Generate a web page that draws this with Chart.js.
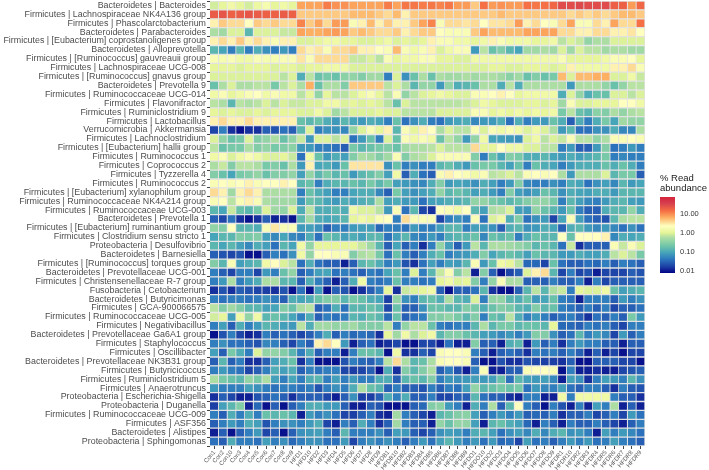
<!DOCTYPE html>
<html>
<head>
<meta charset="utf-8">
<script src="https://cdn.jsdelivr.net/npm/chart.js@4"></script>
<style>
body { margin: 0; background: #fff; }
canvas { display: block; }
</style>
</head>
<body>
<canvas id="graph" width="709" height="470"></canvas>
<script>
const taxa = [
"Bacteroidetes | Bacteroides","Firmicutes | Lachnospiraceae NK4A136 group","Firmicutes | Phascolarctobacterium","Bacteroidetes | Parabacteroides","Firmicutes | [Eubacterium] coprostanoligenes group",
"Bacteroidetes | Alloprevotella","Firmicutes | [Ruminococcus] gauvreauii group","Firmicutes | Lachnospiraceae UCG-008","Firmicutes | [Ruminococcus] gnavus group","Bacteroidetes | Prevotella 9",
"Firmicutes | Ruminococcaceae UCG-014","Firmicutes | Flavonifractor","Firmicutes | Ruminiclostridium 9","Firmicutes | Lactobacillus","Verrucomicrobia | Akkermansia",
"Firmicutes | Lachnoclostridium","Firmicutes | [Eubacterium] hallii group","Firmicutes | Ruminococcus 1","Firmicutes | Coprococcus 2","Firmicutes | Tyzzerella 4",
"Firmicutes | Ruminococcus 2","Firmicutes | [Eubacterium] xylanophilum group","Firmicutes | Ruminococcaceae NK4A214 group","Firmicutes | Ruminococcaceae UCG-003","Bacteroidetes | Prevotella 1",
"Firmicutes | [Eubacterium] ruminantium group","Firmicutes | Clostridium sensu stricto 1","Proteobacteria | Desulfovibrio","Bacteroidetes | Barnesiella","Firmicutes | [Ruminococcus] torques group",
"Bacteroidetes | Prevotellaceae UCG-001","Firmicutes | Christensenellaceae R-7 group","Fusobacteria | Cetobacterium","Bacteroidetes | Butyricimonas","Firmicutes | GCA-900066575",
"Firmicutes | Ruminococcaceae UCG-005","Firmicutes | Negativibacillus","Bacteroidetes | Prevotellaceae Ga6A1 group","Firmicutes | Staphylococcus","Firmicutes | Oscillibacter",
"Bacteroidetes | Prevotellaceae NK3B31 group","Firmicutes | Butyricicoccus","Firmicutes | Ruminiclostridium 5","Firmicutes | Anaerotruncus","Proteobacteria | Escherichia-Shigella",
"Proteobacteria | Duganella","Firmicutes | Ruminococcaceae UCG-009","Firmicutes | ASF356","Bacteroidetes | Alistipes","Proteobacteria | Sphingomonas"];

const samples = [
"Con1","Con2","Con10","Con3","Con4","Con5","Con6","Con7","Con8","Con9",
"HFD1","HFD10","HFD2","HFD3","HFD4","HFD5","HFD6","HFD7","HFD8","HFD9",
"HFDB1","HFDB10","HFDB2","HFDB3","HFDB4","HFDB5","HFDB6","HFDB7","HFDB8","HFDB9",
"HFDO1","HFDO10","HFDO2","HFDO3","HFDO4","HFDO5","HFDO6","HFDO7","HFDO8","HFDO9",
"HFDR1","HFDR10","HFDR2","HFDR3","HFDR4","HFDR5","HFDR6","HFDR7","HFDR8","HFDR9"];

const legendTicks = [0.01, 0.1, 1, 10];

const row00 = [.9,1.2,1.6,1.2,.9,1.4,1.8,1.2,1.5,1.2, 8,8,8,13,10,10,8,8,8,8,13,8,14,14,13, 14,12,14,9,9,5,15,9,10,9,9,15,14,15,18,30,30,32,30,30,30,20,20,9,18];
const row01 = [22,25,20,22,25,22,20,20,22,20, 5,5,5,5,5,5,6,6,6,5,4,6,3,5,5, 5,5,5,5,5,5,5,5,6,5,5,5,5,5,5,5,4,5,4,5,4,5,6,6,5];
const row02 = [3,5,4,4,2.5,5,4,5,4,4, 12,5,8,4,9,9,2,3,6,3,5,3,3,5,8, 12,2,4,4,3.5,4,2.5,3.5,3.5,4,9,3,4,2.5,2,4,8,2,2,4,3,8,4,4,15];
const row03 = [.6,.5,1,1,.15,1,1,1,.8,.8, 8,7,7,8,9,8,5,6,5,4,4,5,3,4,5, 5,2.5,2,2,2,5,8,6,6,6,6,8,8,8,8,4,4,3,3,4,4,3,3,3.5,2.5];
const row04 = [3,4,3,5,3,4,3,2,3,3, 1,1,1.2,1.5,1.5,1.2,1.2,1,1,1.2,1.5,1,1.2,1,1.2, 3,2,2,1.5,1.5,1.2,1.5,3,2,1.5,1.5,1.5,1.2,1.2,1.5,.7,1,.8,.4,.6,.6,1,1,1,1];
const row05 = [.15,.1,.05,.15,.05,.12,.07,.05,.08,.05, 4,3,3.5,2,4,4,5,3,3,2.5,2,6,2,1.5,2, 3,1,1.5,2,2,.08,.7,.2,.3,.15,.1,.5,.5,.6,.5,1,.5,1,.7,.7,.5,.6,.6,.5,.5];
const row06 = [2,1.8,2,1.5,1.5,2,1.8,1.8,2,2, 3.5,2,4,4,4,4,.8,.8,1,.7,2,1.2,1.5,1.5,2, 2,1.2,1.2,1,1,1.5,1.5,1.5,1.5,1.5,1.5,1.5,1.5,1.5,1.5,2,1.2,1.2,1.2,1.2,1.5,2,2,2.5,1.2];
const row07 = [1.2,1.2,1.2,1,1.2,1.2,1.2,1,1.2,1.2, 1,1.2,1.2,1.5,1.5,1.5,1,1,1,1,1,1,1,1,1, 1,1,1,1,1,1,1,1.2,1.2,1,1,1.2,1.2,1.2,1,1.2,3,1.5,1.5,1.5,1.5,3,3,4,2];
const row08 = [1,1,1,1,1,1,1,1,.7,1, .12,.7,.2,.25,.2,.35,.4,.3,.5,.5,.05,1,.07,.2,.6, .2,.6,.5,.5,.6,.5,.6,.6,.5,.35,.5,.2,.3,.2,.25,6,1,6,6,7,7,1,1,1.5,.8];
const row09 = [.2,.6,1,.6,.6,.7,.7,.25,.7,1, .6,7,.2,.6,.6,.3,5,5,5,5,.7,1,.6,.15,.4, .4,.08,.4,.12,.15,.2,.6,.6,.12,.7,.12,.6,.6,.6,.6,.6,.08,.6,.6,.6,.4,.2,.4,.7,.7];
const row10 = [1.5,2,1.2,1.5,2,2.5,1.5,2,1.5,1.5, .7,1.2,.4,1.2,.7,.7,1,1.5,2,1.2,.7,2,.4,.7,1, 1.2,1.5,1.2,1,1,2,2,2.5,3,2.5,1.2,1.5,1.5,1.5,1.5,.12,1,.4,.12,.2,.2,1,1,.7,1];
const row11 = [.7,.6,.15,.7,.6,.7,1,.7,1,.8, .8,1,1,1.5,1.5,1,1.2,1,1.2,1,.7,.2,1,.7,.7, .7,.7,.7,.7,.8,1,1.5,1.2,1,1,1,1.2,1.2,1,1.2,.5,2,1,1,1.2,1.2,1.2,2.5,2.5,1.5];
const row12 = [1.2,1,1.2,1,1,1.2,1,1.2,1.2,1.2, 1,1,1.5,1,.5,.7,1,1,1,1.2,1,1,.7,.7,.7, .7,1,1,1,1,2,2,1.2,1.5,1.2,1.5,1.2,1.5,1.2,1.5,.25,.7,.2,.15,.35,.3,.6,.4,.6,.7];
const row13 = [3,4,3,3,4,3,3,3,3,3, .2,.15,.2,.12,.08,.15,.1,.08,.12,.1,.05,.2,.04,.07,.12, .05,.04,.08,.1,.12,.06,.08,.08,.12,.04,.12,.05,.08,.08,.2,.12,.03,.12,.05,.12,.25,.1,.5,.4,.4];
const row14 = [.02,.05,.015,.01,.015,.015,.03,.025,.04,.03, .15,1,.05,.07,.07,.06,.4,1,2,1.2,3,.15,2,1.2,3, 2.5,.6,1,.7,.7,2,1,2,1.5,2,1.5,1,1.5,1,.6,.08,.15,.04,.04,.07,.07,.12,.06,.06,.6];
const row15 = [1,.4,.2,.25,1,.3,.4,.6,.2,.4, .8,.08,1,1,.7,1,.04,.08,.2,.05,1,.2,2,1.5,2, 1.5,.2,.7,.4,.08,.4,1.5,.1,.09,.08,.07,1,1.5,.7,1,.8,2,.7,.7,.4,.6,2,2,2.5,2];
const row16 = [.7,.2,.25,.25,.6,.3,.4,.25,.3,.35, .08,.08,.05,.05,.04,.03,.25,.15,.2,.25,.3,.2,.5,.6,.6, .7,1,.7,.7,.7,4,1.2,1.2,2.5,1.5,1.5,1,1,.7,.7,.05,.08,.03,.03,.08,.3,.04,.05,.08,.05];
const row17 = [1.5,2,1,1.5,2,1.5,1,1,1.2,.8, .04,1.5,.2,.08,.12,.09,.3,.6,.5,.3,.5,2,.3,.6,.7, 1,2,2,2,2,.3,.05,.2,.1,.3,.25,.12,.12,.15,.1,.08,.12,.09,.12,.15,.25,.05,.06,.05,.05];
const row18 = [.6,.8,.3,.7,.7,.6,.25,.3,.2,.6, .08,3,.1,.12,.08,.2,3.5,3.5,3.5,3.5,.07,.2,.05,.07,.05, .05,.15,.2,.12,.08,.2,.25,.25,.15,.09,.2,.05,.2,.12,.1,.05,.08,.12,.12,.12,.2,.12,.2,.12,.05];
const row19 = [.3,.2,.1,.25,.3,.4,.2,.3,.3,.4, .09,.4,.15,.25,.15,.2,.08,.15,.2,.3,.09,1.5,.03,.12,.04, .03,2,3,2.5,2,1.5,2,.7,.8,1,.7,2,2.5,2,2.5,.6,.08,.6,.6,.6,1,.15,.25,.25,.03];
const row20 = [2,2.5,2,2.5,3,2,2.5,2.5,3,2.5, .15,.2,.05,.12,.15,.15,.2,.15,.25,.15,.25,.09,.08,.07,.06, .12,.3,.08,.1,.09,.07,.12,.09,.05,.08,.3,.06,.05,.05,.07,.05,.12,.1,.04,.07,.09,.06,.15,.08,.1];
const row21 = [4,3,.5,3,4,3,.6,.6,.6,.6, .05,.2,.12,.09,.05,.05,.1,.12,.12,.06,.03,.25,.09,.07,.09, .12,.4,.15,.2,.15,.09,.12,.08,.05,.3,.09,.07,.09,.2,.15,.07,.12,.1,.09,.12,.12,.08,.15,.15,.15];
const row22 = [2,2.5,.7,2,3,2,.6,.5,.5,.5, .08,.2,.15,.1,.08,.12,.09,.12,.15,.6,.09,.12,.08,.08,.04, .09,.1,.12,.12,.15,.4,.4,.25,.2,.15,.2,.3,.4,.4,.25,.05,.15,.09,.06,.05,.08,.12,.15,.09,.08];
const row23 = [.15,.1,.8,.2,.15,.25,1,.5,.4,1, .12,.7,.12,.12,.15,.12,1.5,1,1,.7,.08,2,.04,.15,.02, .015,2.5,2,1.5,2.5,.15,.09,.6,.7,1,.09,.08,.4,.2,.15,.08,.2,.05,.03,.03,.12,.15,.15,.4,.12];
const row24 = [.03,.02,.04,.015,.01,.015,.03,.012,.015,.01, .15,.5,.12,.1,.12,.15,1.2,1.5,1.2,2,2.5,.05,4,2,2, 2,.02,.05,.07,.05,2,.04,1,1.5,.12,.3,.04,.07,.08,.02,.1,2,.09,.04,.03,.025,.15,.6,.7,.7];
const row25 = [.4,.3,2.5,.15,.15,.12,2,3.5,2,2, .08,.09,.07,.03,.05,.05,.08,.09,.09,.035,.05,.05,.04,.08,.05, .05,.09,.15,.15,.05,.09,.08,.07,.03,.12,.15,.07,.08,.12,.1,.03,.12,.15,.08,.06,.08,.06,.04,.07,.04];
const row26 = [.1,.15,.15,.3,.25,.3,.09,.06,.1,.06, .05,.12,.04,.2,.15,.09,.12,.09,.15,.15,.04,.09,.15,.06,.05, .08,.05,.12,.15,.15,.2,.06,.2,.15,.2,.05,.12,.2,.15,.15,2.5,.2,2.5,2.5,2.5,3,.06,.12,.1,.12];
const row27 = [.15,.1,.15,.09,.06,.12,.09,.04,.15,.1, 1.5,.4,1.2,1.2,1.2,1.2,1.2,.8,.5,.15,.03,.1,.03,.05,.015, .05,.4,.09,.03,.08,.7,.15,.6,.6,.5,.4,.3,.15,.2,.15,.04,.8,.015,.03,.03,.03,2,.8,2,1];
const row28 = [.03,.025,.02,.025,.01,.01,.03,.05,.04,.07, 1.5,.4,2.5,2.5,2,2,.3,.6,.7,.25,.04,.2,.05,.03,.05, .12,.2,.05,.07,.08,.12,.3,.1,.15,.2,.15,.09,.2,.15,.15,.08,.08,.12,.09,.09,.12,.7,1,.7,.25];
const row29 = [.3,.15,2,.09,.12,.15,1.5,2.5,1,.7, .04,.12,.04,.03,.03,.012,.03,.15,.2,.12,.05,.08,.025,.015,.04, .09,.05,.09,.08,.15,2,.08,.2,1.5,1.2,.7,.035,.035,.02,.2,.04,.03,.03,.04,.035,.05,.03,.05,.04,.03];
const row30 = [.05,.03,.02,.05,.05,.02,.08,.05,.2,.4, .03,.05,.09,.1,.04,.05,.04,.03,.05,.04,.1,.2,.05,1,.05, .15,.8,2,.3,.7,.012,.3,.03,.01,.02,.03,1,3,4,.15,.02,.05,.02,.025,.012,.02,.02,.02,.03,.025];
const row31 = [.05,.08,.6,.05,.08,.12,.6,.6,.15,.15, .03,.12,.05,.03,.012,.03,.12,1.5,.05,.04,.05,.2,.05,.05,.04, .05,1.2,1.5,1,1.2,.3,.05,.4,2,.6,.6,.03,.03,.03,.05,.03,.03,.05,.012,.05,.02,.03,.03,.03,.03];
const row32 = [.015,.025,.015,.03,.025,.02,.018,.015,.025,.01, .04,.01,.08,.01,.03,.025,.01,.015,.03,.05,1.2,.015,.8,1,1.2, 1.5,.03,.01,.03,.03,.04,.15,.015,.01,.01,.03,.15,.7,.15,.6,.8,.05,1.2,1,1,1.5,.2,.09,.12,.15];
const row33 = [.05,.04,.05,.05,.04,.05,.07,.05,.03,.12, .1,.12,.2,.3,.3,.15,.25,.2,.12,.1,.018,.4,.07,.05,.15, .2,.12,.6,.15,.12,1,.05,.4,.4,.15,.12,.2,.08,.1,.2,.05,.04,.012,.05,.05,.05,.03,.08,.05,.07];
const row34 = [.7,.3,.5,.3,.15,.15,.09,.1,.3,.2, .6,.7,.03,.04,.12,.04,.15,.15,.2,.15,.02,.2,.03,.03,.07, .2,.2,.15,.15,.3,.25,.12,.2,.3,.25,.15,.12,.3,.15,.2,.05,.04,.03,.05,.03,.05,.02,.03,.03,.04];
const row35 = [.9,1.2,.09,1.5,.4,1.5,.15,.2,.15,.1, .05,.12,.03,.05,.04,.05,.15,.12,.2,.15,.035,.2,.03,.04,.05, .3,.3,.4,.25,.15,.3,.05,.2,.15,.7,.12,.05,.08,.05,.03,.04,.05,.03,.015,.04,.03,.05,.03,.25,.08];
const row36 = [.05,.09,.03,.12,.05,.08,.15,.12,.09,.08, .7,.12,.5,.5,.4,.4,.5,.3,.3,.3,.7,.05,.4,.7,.7, .2,.05,.04,.05,.05,.15,.6,.15,.25,.25,.15,.2,.2,.15,1.2,.035,.035,.03,.05,.04,.05,.03,.02,.05,.05];
const row37 = [.01,.025,.05,.02,.012,.015,.05,.03,.04,.03, .02,.03,.05,.12,.03,.05,.035,.04,.035,.015,1.2,.5,1.5,.6,1, 1.5,.15,.3,.3,.2,.15,.09,.08,.06,.08,.05,.08,.3,.3,.07,.03,.04,.15,.05,.08,.06,.02,.08,.03,.05];
const row38 = [.05,.07,.04,.04,.03,.025,.06,.05,.03,.02, .05,.03,3,4,2.5,.08,.012,.03,.04,.012,.015,.02,.01,.01,.02, .02,.012,.04,.012,.012,.3,.03,.03,.012,.12,.15,.012,.08,.03,.05,.015,.05,.08,.05,.05,.03,.03,.012,.03,.03];
const row39 = [.09,.03,.25,.12,.05,1,.4,.4,.3,.15, .05,.12,.03,.05,.05,.012,.05,.2,.2,.15,.01,1.5,.015,.015,.03, .02,2,2.5,2.5,2,.05,.03,.012,.03,.04,.03,.015,.05,.04,.05,.03,.05,.03,.012,.03,.012,.02,.01,.02,.02];
const row40 = [.03,.15,.03,.05,.015,.015,.03,.09,.12,.2, .015,.05,.01,.01,.01,.025,.05,.035,.03,.05,.7,4,.6,.15,.2, .6,2,2.5,2.5,2,.03,.01,.01,.025,.015,.015,.025,.02,.018,.018,.015,.03,.01,.01,.03,.03,.03,.02,.02,.01];
const row41 = [.05,.08,.05,.04,.02,.03,.05,.12,.09,.12, .03,.05,.04,.05,.05,.02,.018,.02,.03,.01,.12,.015,.3,.15,.3, .6,.03,.05,.025,.012,.05,2,.012,.012,.03,.03,2,2.5,2.5,2,.01,.05,.012,.012,.015,.012,.012,.02,.025,.03];
const row42 = [.6,.25,.2,.15,.4,.25,.6,.09,.05,.1, .05,.12,.15,.05,.09,.05,.08,.05,.05,.12,.12,.03,.15,.2,.15, .3,.05,.08,.07,.08,.09,.08,.09,.2,.04,.15,.09,.08,.09,.06,.012,.09,.07,.015,.05,.09,.08,.05,.15,.07];
const row43 = [.08,.05,.05,.05,.09,.07,.05,.04,.05,.05, .04,.05,.025,.05,.07,.05,.12,.6,.2,.15,.03,.05,.03,.03,.025, .05,.03,.05,.04,.09,.4,.15,.2,.25,.2,.25,.04,.08,.06,.05,.09,.04,.03,.05,.05,.03,.015,.05,.03,.025];
const row44 = [.015,.03,.02,.012,.012,.025,.03,.04,.03,.015, .03,.03,.03,.02,.012,.03,.07,.018,.018,.03,.12,.05,.12,.03,.03, .05,.02,.02,.03,.03,.15,.04,.03,.03,.015,.012,.05,.05,.012,.012,1.5,.05,1.5,1.5,1.5,1.5,.05,.03,.03,.015];
const row45 = [.018,.09,.15,.3,.012,.035,.01,.03,.01,.03, .05,.12,.12,.08,.08,.03,.012,.012,.03,.025,.01,.01,.01,.03,.035, .3,.35,.08,.05,.012,.12,.05,.6,.03,.15,2.5,.05,.03,.01,.05,.025,.012,.05,.012,.09,.05,.6,.012,.03,.012];
const row46 = [.05,.03,.12,.05,.12,.05,.2,.15,.2,.15, .012,.08,.05,.07,.04,.02,.018,.03,.05,.015,.012,.5,.05,.03,.02, .012,.15,.2,.3,.35,.09,.03,.05,.08,.05,.08,.03,.035,.03,.05,.015,.03,.03,.05,.02,.03,.05,.02,.08,.04];
const row47 = [.03,.05,.08,.05,.12,.09,.025,.05,.07,.07, .05,.08,.12,.02,.012,.05,.03,.12,.05,.015,.03,.5,.05,.03,.03, .012,.4,.2,.4,.4,.09,.012,.15,.2,.12,.09,.035,.012,.05,.03,.012,.05,.03,.03,.05,.03,.02,.012,.03,.05];
const row48 = [.012,.03,.01,.03,.05,.08,.02,.03,.01,.03, .07,.08,.09,.05,.03,.15,.05,.05,.05,.07,.03,.09,.08,.03,.02, .03,.07,.09,.08,.05,.12,.15,.09,.04,.07,.09,.06,.12,.06,.12,.15,.07,.08,.05,.012,.09,.05,.08,.06,.04];
const row49 = [.04,.03,.12,.05,.05,.04,.09,.05,.07,.035, .05,.07,.07,.04,.04,.08,.02,.05,.07,.05,.07,.05,.03,.05,.08, .04,.09,.15,.08,.05,.08,.04,.08,.035,.04,.02,.09,.04,.05,.03,.05,.08,.05,.08,.04,.05,.09,.05,.04,.03];

const abundance = [row00,row01,row02,row03,row04,row05,row06,row07,row08,row09,
    row10,row11,row12,row13,row14,row15,row16,row17,row18,row19,
    row20,row21,row22,row23,row24,row25,row26,row27,row28,row29,
    row30,row31,row32,row33,row34,row35,row36,row37,row38,row39,
    row40,row41,row42,row43,row44,row45,row46,row47,row48,row49];

//colour ramp, position is log10 of the abundance
const ramp = [
    [-2.1, [0, 0, 130]],
    [-1.75, [28, 62, 165]],
    [-1.35, [45, 120, 190]],
    [-1.0, [70, 165, 185]],
    [-0.65, [112, 198, 168]],
    [-0.2, [175, 223, 164]],
    [0.05, [230, 245, 152]],
    [0.4, [255, 255, 191]],
    [0.85, [253, 174, 97]],
    [1.2, [244, 109, 67]],
    [1.6, [213, 62, 79]],
    [1.85, [213, 40, 60]]
];

/**********/
function colourOf(value)
{
    let pos = Math.log10(value);

    if(pos <= ramp[0][0]) { return "rgb(" + ramp[0][1].join(",") + ")"; }

    for(let i=1; i<ramp.length; i++)
    {
        if(pos <= ramp[i][0])
        {
            let f = (pos-ramp[i-1][0]) / (ramp[i][0]-ramp[i-1][0]);
            let c = ramp[i][1].map((v, k) => Math.round(ramp[i-1][1][k] + f*(v-ramp[i-1][1][k])));
            return "rgb(" + c.join(",") + ")";
        }
    }

    return "rgb(" + ramp[ramp.length-1][1].join(",") + ")";
}

//one stacked dataset per sample, every cell is one unit wide
let datasets = [];
for(let c=0; c<samples.length; c++)
{
    datasets.push({
        label: samples[c],
        data: taxa.map(() => 1),
        backgroundColor: abundance.map(row => colourOf(row[c])),
        borderColor: "#e2e2e2",
        borderWidth: 1,
        barPercentage: 1,
        categoryPercentage: 1
    });
}

//colour bar with the legend title and its ticks
const legendPlugin = {
    id: "abundanceLegend",
    afterDraw(chart)
    {
        let ctx = chart.ctx;
        let left = 660, top = 197, width = 15, height = 76;
        let perDecade = 19, zeroAt = 233;

        for(let y=0; y<height; y++)
        {
            ctx.fillStyle = colourOf(Math.pow(10, (zeroAt-(top+y))/perDecade));
            ctx.fillRect(left, top+y, width, 1);
        }

        ctx.fillStyle = "#222";
        ctx.font = "9.5px 'Liberation Sans'";
        ctx.textAlign = "left";
        ctx.textBaseline = "middle";
        ctx.fillText("% Read", 660, 178);
        ctx.fillText("abundance", 660, 188);

        ctx.font = "7.5px 'Liberation Sans'";
        ctx.fillStyle = "#333";
        for(let i=0; i<legendTicks.length; i++)
        {
            let y = zeroAt - perDecade*Math.log10(legendTicks[i]);
            ctx.fillText(legendTicks[i].toFixed(2), 680, y);
        }
    }
};

new Chart(document.getElementById("graph"), {
    type: "bar",
    data: { labels: taxa, datasets: datasets },
    plugins: [legendPlugin],
    options: {
        indexAxis: "y",
        responsive: false,
        animation: false,
        layout: { padding: { top: 1, right: 64, left: 0, bottom: 0 } },
        plugins: { legend: { display: false }, tooltip: { enabled: false } },
        scales: {
            x: {
                stacked: true,
                min: 0,
                max: samples.length,
                grid: { drawOnChartArea: false, tickLength: 3, tickColor: "#444" },
                border: { display: false },
                afterBuildTicks(axis) { axis.ticks = samples.map((s, i) => ({ value: i+0.5 })); },
                afterFit(axis) { axis.height = 24; axis.paddingLeft = 0; axis.paddingRight = 0; },
                ticks: {
                    autoSkip: false,
                    minRotation: 50,
                    maxRotation: 50,
                    padding: 0,
                    color: "#555",
                    font: { family: "Liberation Sans", size: 6 },
                    callback(value) { return samples[Math.floor(value)]; }
                }
            },
            y: {
                stacked: true,
                grid: { drawOnChartArea: false, tickLength: 3, tickColor: "#444" },
                border: { display: false },
                afterFit(axis) { axis.width = 210; axis.paddingTop = 0; axis.paddingBottom = 0; },
                ticks: {
                    autoSkip: false,
                    padding: 1,
                    color: "#4d4d4d",
                    font: { family: "Liberation Sans", size: 8.9 }
                }
            }
        }
    }
});
</script>
</body>
</html>
